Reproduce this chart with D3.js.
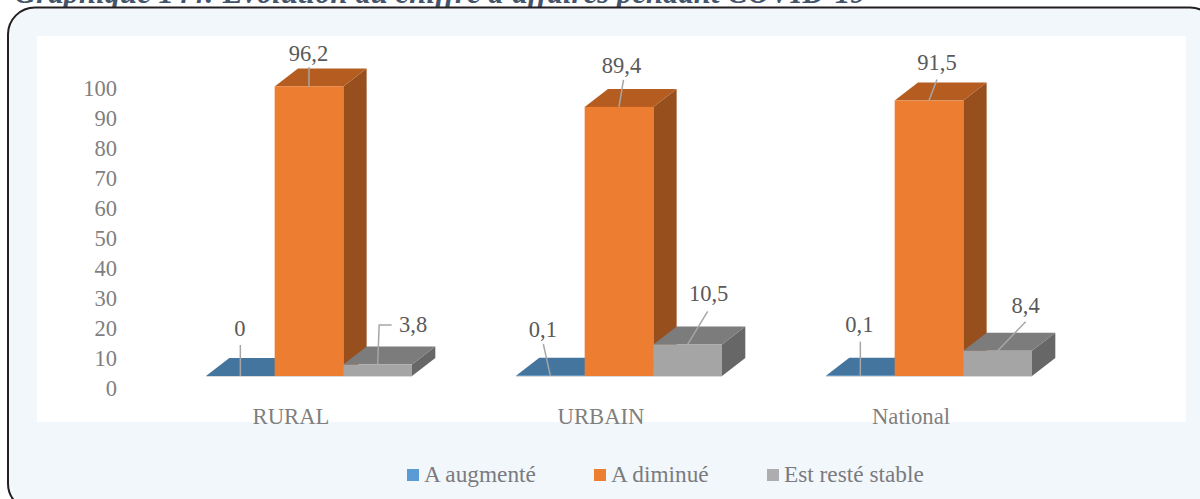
<!DOCTYPE html>
<html><head><meta charset="utf-8">
<script src="https://cdn.jsdelivr.net/npm/d3@7"></script>
<style>html,body{margin:0;padding:0;background:#fff;overflow:hidden}svg{display:block}text{font-family:"Liberation Serif",serif}</style>
</head><body><svg id="c" width="1200" height="499"></svg>
<script>
const titleText = "Graphique 144: Evolution du chiffre d'affaires pendant COVID-19";
const categories = ["RURAL", "URBAIN", "National"];
const seriesNames = ["A augmenté", "A diminué", "Est resté stable"];
const augmente = [0, 0.1, 0.1];
const diminue = [96.2, 89.4, 91.5];
const stable = [3.8, 10.5, 8.4];
const valueLabels = [["0","0,1","0,1"],["96,2","89,4","91,5"],["3,8","10,5","8,4"]];
const axisTicks = d3.range(0, 101, 10);

const colors = [
  {front:"#5b9bd5", top:"#44759f", side:"#3a6a94"},
  {front:"#ed7d31", top:"#b55d21", side:"#974f1e"},
  {front:"#a5a5a5", top:"#7c7c7c", side:"#676767"}
];
const legendColors = ["#5b9bd5","#ed7d31","#adadb0"];
const depth = {dx:23.3, dy:-18};
// label position and leader start, relative to the anchor at the middle of each bar's front top edge
const labelOffsets = [
  [[-0.5,-48],[-7.5,-46],[-1,-51]],
  [[-0.5,-32.5],[2.5,-41],[8,-38]],
  [[35.5,-39.6],[21,-50.5],[28,-45.5]]
];
const leaderPaths = [
  [[[0,-31]],[[-7,-31.5]],[[0,-34]]],
  [[[0,-19.5]],[[4.5,-27]],[[8,-21]]],
  [[[1.5,-39.6],[14,-39.6]],[[20,-33]],[[28,-29]]]
];

const svg = d3.select("#c");
svg.append("text").text(titleText).attr("x",14).attr("y",3)
  .attr("font-size",30.8).attr("font-weight","bold").attr("font-style","italic").attr("fill","#44546a");
svg.append("rect").attr("x",8).attr("y",7.5).attr("width",1209).attr("height",503).attr("rx",27)
  .attr("fill","#f2f7fb").attr("stroke","#231f20").attr("stroke-width",2);
svg.append("rect").attr("x",37).attr("y",36).attr("width",1149).attr("height",386).attr("fill","#fff");

const x0 = d3.scaleBand().domain(categories).range([136,1066]);
const x1 = d3.scaleBand().domain(d3.range(3)).range([70,276]);
const y = d3.scaleLinear().domain([0,100]).range([376,75]);
const axisY = d3.scaleLinear().domain([0,100]).range([388.5,88.5]);
const values = [augmente, diminue, stable];
const w = x1.bandwidth();

const axisG = svg.append("g").attr("transform","translate(117,0)")
  .call(d3.axisLeft(axisY).tickValues(axisTicks).tickSize(0).tickPadding(0));
axisG.select(".domain").remove();
axisG.selectAll("text").attr("font-family","Liberation Serif").attr("font-size",22.5).attr("fill","#7f7f7f");

const bars = [];
values.forEach((vals,s)=>vals.forEach((v,c)=>bars.push({s,c,v})));
const g = svg.append("g");
bars.sort((a,b)=>a.c-b.c||a.s-b.s).forEach(b=>{
  const xl = x0(categories[b.c])+x1(b.s), xr = xl+w, yt = y(b.v), yb = y(0), col = colors[b.s];
  const gg = g.append("g");
  gg.append("path").attr("fill",col.side)
    .attr("d",d3.line()([[xr,yt],[xr+depth.dx,yt+depth.dy],[xr+depth.dx,yb+depth.dy],[xr,yb]]));
  gg.append("path").attr("fill",col.top)
    .attr("d",d3.line()([[xl,yt],[xl+depth.dx,yt+depth.dy],[xr+depth.dx,yt+depth.dy],[xr,yt]]));
  gg.append("rect").attr("x",xl).attr("y",yt).attr("width",w).attr("height",yb-yt).attr("fill",col.front);
  gg.append("line").attr("x1",xl).attr("x2",xr).attr("y1",yb+0.5).attr("y2",yb+0.5).attr("stroke","#d9d9d9").attr("stroke-width",1);
});
const lab = svg.append("g");
bars.forEach(b=>{
  const ax = x0(categories[b.c])+x1(b.s)+w/2, ay = y(b.v);
  const pts = [[ax,ay]].concat(leaderPaths[b.s][b.c].map(p=>[ax+p[0],ay+p[1]]));
  lab.append("path").attr("d",d3.line()(pts)).attr("fill","none").attr("stroke","#a6a6a6").attr("stroke-width",1.5);
  const o = labelOffsets[b.s][b.c];
  lab.append("text").text(valueLabels[b.s][b.c]).attr("x",ax+o[0]).attr("y",ay+o[1]).attr("text-anchor","middle").attr("dominant-baseline","central")
    .attr("font-size",22.5).attr("fill","#595959");
});
svg.append("g").selectAll("text").data(categories).join("text").text(d=>d)
  .attr("x",d=>x0(d)+x0.bandwidth()/2).attr("y",424).attr("text-anchor","middle")
  .attr("font-size",22.7).attr("fill","#7f7f7f");

const legendX = d3.scaleOrdinal().domain(seriesNames).range([407,594,767]);
const lg = svg.append("g").selectAll("g").data(seriesNames).join("g")
  .attr("transform",d=>`translate(${legendX(d)},0)`);
lg.append("rect").attr("y",469).attr("width",12).attr("height",12).attr("fill",(d,i)=>legendColors[i]);
lg.append("text").text(d=>d).attr("x",17).attr("y",482).attr("font-size",23.3).attr("fill","#7b7b7f");
</script></body></html>
